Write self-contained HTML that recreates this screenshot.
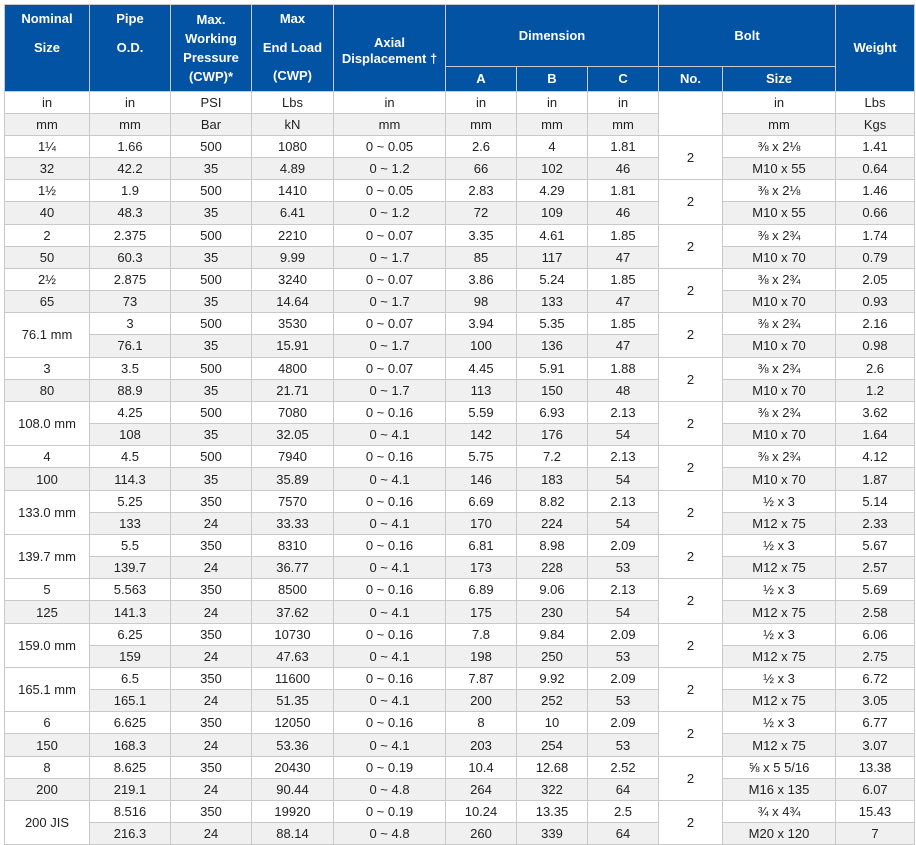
<!DOCTYPE html>
<html><head><meta charset="utf-8"><style>
body{margin:0;background:#fff;font-family:"Liberation Sans",Arial,sans-serif;}
table{position:absolute;left:4px;top:4px;border-collapse:collapse;table-layout:fixed;width:910px;font-size:13px;color:#222;}
td,th{border:1px solid #c9c9c9;text-align:center;padding:0;overflow:hidden;white-space:nowrap;}
th{background:#0253a3;color:#fff;font-weight:bold;font-size:13px;line-height:19px;border-color:#c9c9c9;}
th.t{line-height:28.5px;}
th.ax{line-height:16px;padding-top:6px;}
tr.h1 th{height:56px;}
tr.h2 th{height:21px;}
td{height:21.18px;line-height:21px;background:#fff;}
tr.g td{background:#f0f0f0;}
tr.g td.w,tr td.w{background:#fff;}
</style></head><body>
<table>
<colgroup><col style="width:85px"><col style="width:81px"><col style="width:81px"><col style="width:82px"><col style="width:112px"><col style="width:71px"><col style="width:71px"><col style="width:71px"><col style="width:64px"><col style="width:113px"><col style="width:79px"></colgroup>
<thead>
<tr class="h1">
<th rowspan="2" class="t">Nominal<br>Size<br>&nbsp;</th>
<th rowspan="2" class="t">Pipe<br>O.D.<br>&nbsp;</th>
<th rowspan="2">Max.<br>Working<br>Pressure<br>(CWP)*</th>
<th rowspan="2" class="t">Max<br>End Load<br>(CWP)</th>
<th rowspan="2" class="ax">Axial<br>Displacement †</th>
<th colspan="3">Dimension</th>
<th colspan="2">Bolt</th>
<th rowspan="2">Weight</th>
</tr>
<tr class="h2">
<th>A</th>
<th>B</th>
<th>C</th>
<th>No.</th>
<th>Size</th>
</tr>
</thead>
<tbody id="tb">
<tr><td>in</td><td>in</td><td>PSI</td><td>Lbs</td><td>in</td><td>in</td><td>in</td><td>in</td><td rowspan="2" class="w"></td><td>in</td><td>Lbs</td></tr>
<tr class="g"><td>mm</td><td>mm</td><td>Bar</td><td>kN</td><td>mm</td><td>mm</td><td>mm</td><td>mm</td><td>mm</td><td>Kgs</td></tr>
</tbody>
</table>
<script>
const inRows = [
["1¼","32","1.66","500","1080","0 ~ 0.05","2.6","4","1.81","⅜ x 2⅛","1.41"],
["1½","40","1.9","500","1410","0 ~ 0.05","2.83","4.29","1.81","⅜ x 2⅛","1.46"],
["2","50","2.375","500","2210","0 ~ 0.07","3.35","4.61","1.85","⅜ x 2¾","1.74"],
["2½","65","2.875","500","3240","0 ~ 0.07","3.86","5.24","1.85","⅜ x 2¾","2.05"],
["76.1 mm",null,"3","500","3530","0 ~ 0.07","3.94","5.35","1.85","⅜ x 2¾","2.16"],
["3","80","3.5","500","4800","0 ~ 0.07","4.45","5.91","1.88","⅜ x 2¾","2.6"],
["108.0 mm",null,"4.25","500","7080","0 ~ 0.16","5.59","6.93","2.13","⅜ x 2¾","3.62"],
["4","100","4.5","500","7940","0 ~ 0.16","5.75","7.2","2.13","⅜ x 2¾","4.12"],
["133.0 mm",null,"5.25","350","7570","0 ~ 0.16","6.69","8.82","2.13","½ x 3","5.14"],
["139.7 mm",null,"5.5","350","8310","0 ~ 0.16","6.81","8.98","2.09","½ x 3","5.67"],
["5","125","5.563","350","8500","0 ~ 0.16","6.89","9.06","2.13","½ x 3","5.69"],
["159.0 mm",null,"6.25","350","10730","0 ~ 0.16","7.8","9.84","2.09","½ x 3","6.06"],
["165.1 mm",null,"6.5","350","11600","0 ~ 0.16","7.87","9.92","2.09","½ x 3","6.72"],
["6","150","6.625","350","12050","0 ~ 0.16","8","10","2.09","½ x 3","6.77"],
["8","200","8.625","350","20430","0 ~ 0.19","10.4","12.68","2.52","⅝ x 5 5/16","13.38"],
["200 JIS",null,"8.516","350","19920","0 ~ 0.19","10.24","13.35","2.5","¾ x 4¾","15.43"]
];
const mmRows = [
["42.2","35","4.89","0 ~ 1.2","66","102","46","M10 x 55","0.64"],
["48.3","35","6.41","0 ~ 1.2","72","109","46","M10 x 55","0.66"],
["60.3","35","9.99","0 ~ 1.7","85","117","47","M10 x 70","0.79"],
["73","35","14.64","0 ~ 1.7","98","133","47","M10 x 70","0.93"],
["76.1","35","15.91","0 ~ 1.7","100","136","47","M10 x 70","0.98"],
["88.9","35","21.71","0 ~ 1.7","113","150","48","M10 x 70","1.2"],
["108","35","32.05","0 ~ 4.1","142","176","54","M10 x 70","1.64"],
["114.3","35","35.89","0 ~ 4.1","146","183","54","M10 x 70","1.87"],
["133","24","33.33","0 ~ 4.1","170","224","54","M12 x 75","2.33"],
["139.7","24","36.77","0 ~ 4.1","173","228","53","M12 x 75","2.57"],
["141.3","24","37.62","0 ~ 4.1","175","230","54","M12 x 75","2.58"],
["159","24","47.63","0 ~ 4.1","198","250","53","M12 x 75","2.75"],
["165.1","24","51.35","0 ~ 4.1","200","252","53","M12 x 75","3.05"],
["168.3","24","53.36","0 ~ 4.1","203","254","53","M12 x 75","3.07"],
["219.1","24","90.44","0 ~ 4.8","264","322","64","M16 x 135","6.07"],
["216.3","24","88.14","0 ~ 4.8","260","339","64","M20 x 120","7"]
];
const boltCounts = ["2","2","2","2","2","2","2","2","2","2","2","2","2","2","2","2"];
const tb = document.getElementById('tb');
function cell(tr, txt, cls, span) {
  const td = document.createElement('td');
  td.textContent = txt;
  
  
  if (cls) td.className = cls;
  if (span) td.rowSpan = span;
  tr.appendChild(td);
  return td;
}
inRows.forEach((r, i) => {
  const m = mmRows[i];
  const t1 = document.createElement('tr');
  
  
  const t2 = document.createElement('tr');
  t2.className = 'g';
  
  
  if (r[1] === null) cell(t1, r[0], 'w', 2); else cell(t1, r[0]);
  for (let k = 2; k <= 8; k++) cell(t1, r[k]);
  cell(t1, boltCounts[i], 'w', 2);
  cell(t1, r[9]); cell(t1, r[10]);
  if (r[1] !== null) cell(t2, r[1]);
  m.forEach(v => cell(t2, v));
  tb.appendChild(t1); tb.appendChild(t2);
});
</script>
</body></html>
